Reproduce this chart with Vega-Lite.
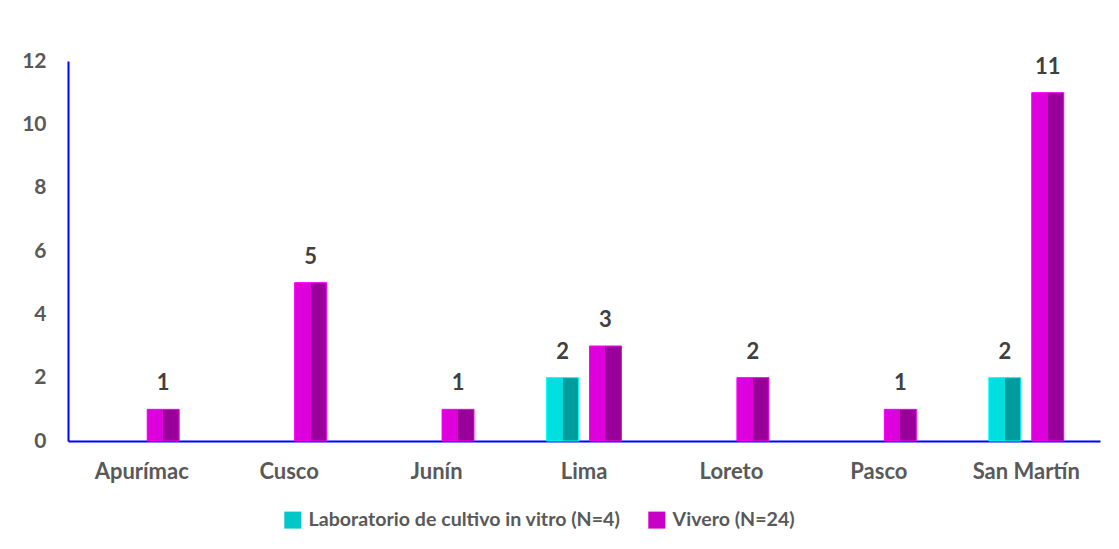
{
  "$schema": "https://vega.github.io/schema/vega-lite/v6.json",
  "width": 1032,
  "height": 380,
  "autosize": {"type": "none"},
  "padding": {"left": 68, "top": 61, "right": 19, "bottom": 108},
  "background": "white",
  "config": {
    "view": {"stroke": null},
    "font": "Lato"
  },
  "data": {
    "values": [
      {"region": "Apurímac", "tipo": "Vivero (N=24)", "n": 1},
      {"region": "Cusco", "tipo": "Vivero (N=24)", "n": 5},
      {"region": "Junín", "tipo": "Vivero (N=24)", "n": 1},
      {"region": "Lima", "tipo": "Laboratorio de cultivo in vitro (N=4)", "n": 2},
      {"region": "Lima", "tipo": "Vivero (N=24)", "n": 3},
      {"region": "Loreto", "tipo": "Vivero (N=24)", "n": 2},
      {"region": "Pasco", "tipo": "Vivero (N=24)", "n": 1},
      {"region": "San Martín", "tipo": "Laboratorio de cultivo in vitro (N=4)", "n": 2},
      {"region": "San Martín", "tipo": "Vivero (N=24)", "n": 11}
    ]
  },
  "encoding": {
    "x": {
      "field": "region", "type": "nominal",
      "sort": ["Apurímac", "Cusco", "Junín", "Lima", "Loreto", "Pasco", "San Martín"],
      "scale": {"paddingInner": 0.3, "paddingOuter": 0.15},
      "axis": {
        "title": null, "labelAngle": 0, "ticks": false,
        "domainColor": "#0000FF", "domainWidth": 2,
        "labelFont": "Lato", "labelFontWeight": "bold", "labelFontSize": 22,
        "labelColor": "#595959", "labelPadding": 20
      }
    },
    "xOffset": {
      "field": "tipo", "type": "nominal",
      "sort": ["Laboratorio de cultivo in vitro (N=4)", "Vivero (N=24)"],
      "scale": {"paddingInner": 0.256, "paddingOuter": 0.33}
    },
    "y": {
      "field": "n", "type": "quantitative",
      "scale": {"domain": [0, 12], "nice": false},
      "axis": {
        "title": null, "values": [0, 2, 4, 6, 8, 10, 12], "grid": false, "ticks": false,
        "domainColor": "#0000FF", "domainWidth": 2,
        "labelFont": "Lato", "labelFontWeight": "bold", "labelFontSize": 21,
        "labelColor": "#595959", "labelPadding": 22
      }
    }
  },
  "layer": [
    {
      "mark": {"type": "bar"},
      "encoding": {
        "color": {
          "field": "tipo", "type": "nominal",
          "sort": ["Laboratorio de cultivo in vitro (N=4)", "Vivero (N=24)"],
          "scale": {"range": ["#00C8C8", "#C800C8"]},
          "legend": {
            "title": null, "orient": "none", "legendX": 215, "legendY": 449,
            "direction": "horizontal",
            "symbolType": "square", "symbolSize": 289, "symbolStrokeWidth": 0,
            "labelFont": "Lato", "labelFontWeight": "bold", "labelFontSize": 19.6,
            "labelColor": "#595959", "columnPadding": 26, "labelOffset": 6, "labelLimit": 400
          }
        }
      }
    },
    {
      "transform": [{"filter": "datum.tipo === 'Laboratorio de cultivo in vitro (N=4)'"}],
      "mark": {
        "type": "bar",
        "fill": {"gradient": "linear", "x1": 0, "x2": 1, "y1": 0, "y2": 0,
          "stops": [
            {"offset": 0, "color": "#00DEDE"},
            {"offset": 0.5, "color": "#00DEDE"},
            {"offset": 0.5, "color": "#009B9B"},
            {"offset": 1, "color": "#009B9B"}
          ]},
        "stroke": "#00FFFF", "strokeWidth": 1
      }
    },
    {
      "transform": [{"filter": "datum.tipo === 'Vivero (N=24)'"}],
      "mark": {
        "type": "bar",
        "fill": {"gradient": "linear", "x1": 0, "x2": 1, "y1": 0, "y2": 0,
          "stops": [
            {"offset": 0, "color": "#DD00DD"},
            {"offset": 0.5, "color": "#DD00DD"},
            {"offset": 0.5, "color": "#990099"},
            {"offset": 1, "color": "#990099"}
          ]},
        "stroke": "#FF00FF", "strokeWidth": 1
      }
    },
    {
      "mark": {"type": "text", "baseline": "middle", "dy": -26, "font": "Lato", "fontWeight": "bold", "fontSize": 22, "color": "#404040"},
      "encoding": {"text": {"field": "n", "type": "quantitative"}}
    }
  ]
}
